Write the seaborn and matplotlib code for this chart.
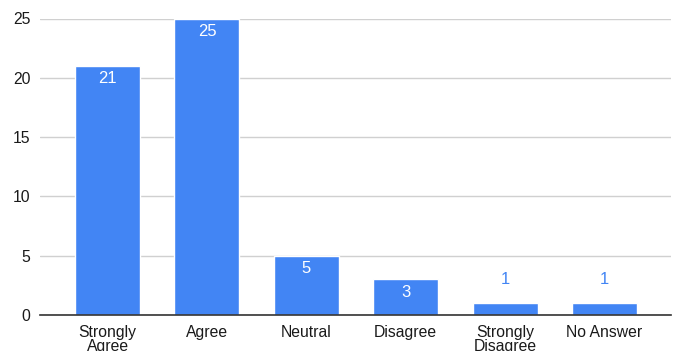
import matplotlib
matplotlib.use("Agg")
import matplotlib.pyplot as plt
import seaborn as sns
import pandas as pd

categories = ["Strongly\nAgree", "Agree", "Neutral", "Disagree", "Strongly\nDisagree", "No Answer"]
counts = [21, 25, 5, 3, 1, 1]

BLUE = "#4285F4"

sns.set_theme(style="white")
plt.rcParams["font.family"] = ["Liberation Sans", "DejaVu Sans"]

df = pd.DataFrame({"response": categories, "count": counts})

fig = plt.figure(figsize=(6.78, 3.51), dpi=100)
ax = fig.add_axes([40 / 678, 36 / 351, 631 / 678, 296.5 / 351])

sns.barplot(data=df, x="response", y="count", color=BLUE, saturation=1,
            width=0.655, ax=ax, zorder=3)

ax.set_ylim(0, 25)
ax.set_xlim(-0.68, 5.67)
ax.set_yticks([0, 5, 10, 15, 20, 25])
ax.yaxis.grid(True, color="#d0d0d0", linewidth=1, zorder=0)
ax.set_axisbelow(True)
for side in ["top", "right", "left"]:
    ax.spines[side].set_visible(False)
ax.spines["bottom"].set_color("#333333")
ax.spines["bottom"].set_linewidth(1.2)
ax.spines["bottom"].set_zorder(4)
ax.set_xlabel("")
ax.set_ylabel("")
ax.tick_params(axis="y", length=0, pad=7, labelsize=11.3, labelcolor="#1a1a1a")
ax.tick_params(axis="x", length=0, pad=7, labelsize=11.3, labelcolor="#1a1a1a")
for lbl in ax.get_xticklabels():
    lbl.set_linespacing(0.92)

# value labels: inside tall bars in white, above short bars in blue
for patch, val in zip(ax.patches, counts):
    cx = patch.get_x() + patch.get_width() / 2
    top = patch.get_height()
    if val >= 3:
        ax.annotate(str(val), (cx, top), xytext=(0, -13), textcoords="offset pixels",
                    ha="center", va="center", color="white", fontsize=12, zorder=5)
    else:
        ax.annotate(str(val), (cx, top), xytext=(0, 24), textcoords="offset pixels",
                    ha="center", va="center", color=BLUE, fontsize=12, zorder=5)

fig.savefig("out.png", dpi=100, facecolor="white")
